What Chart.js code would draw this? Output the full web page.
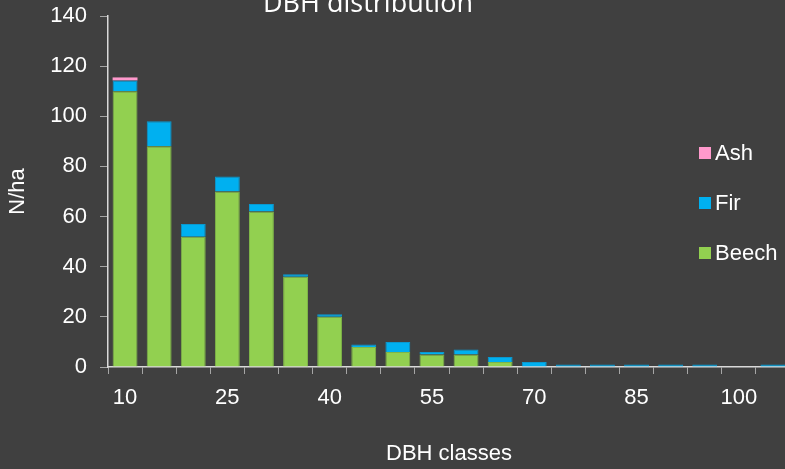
<!DOCTYPE html>
<html>
<head>
<meta charset="utf-8">
<script src="https://cdn.jsdelivr.net/npm/chart.js@4"></script>
<style>
  html, body { margin: 0; padding: 0; background: #404040; overflow: hidden; }
  #wrap { width: 785px; height: 469px; overflow: hidden; }
</style>
</head>
<body>
<div id="wrap"><canvas id="myChart" width="800" height="469"></canvas></div>
<script>
const classes = [10, 15, 20, 25, 30, 35, 40, 45, 50, 55, 60, 65, 70, 75, 80, 85, 90, 95, 100, 105];
const beech = [110, 88, 52, 70, 62, 36, 20, 8, 6, 5, 5, 2, 0, 0, 0, 0, 0, 0, 0, 0];
const fir   = [4.3, 10, 5, 6, 3, 1, 1, 1, 4, 1, 2, 2, 2, 1, 1, 1, 1, 1, 0, 1];
const ash   = [1.2, 0, 0, 0, 0, 0, 0, 0, 0, 0, 0, 0, 0, 0, 0, 0, 0, 0, 0, 0];
const yTicks = [0, 20, 40, 60, 80, 100, 120, 140];

const colorVar = {
    bg: '#404040',
    beech: '#92D050',
    fir: '#00B0F0',
    ash: '#FF99CC',
    text: '#FFFFFF',
    axis: '#D9D9D9',
    tick: '#A6A6A6',
}

const font = 'Liberation Sans';

// title + legend drawn on top, overlapping the plot like the original
const overlay = {
    id: 'overlay',
    afterDraw(chart) {
        const c = chart.ctx;
        c.save();
        c.fillStyle = colorVar.text;
        c.font = '27px "Open Sans"';
        c.textAlign = 'center';
        c.textBaseline = 'alphabetic';
        c.fillText('DBH distribution', 368, 12);

        c.font = '22px "' + font + '"';
        c.textAlign = 'left';
        c.textBaseline = 'middle';
        const items = chart.data.datasets.slice().reverse();
        items.forEach((ds, i) => {
            const y = 153 + i * 50;
            c.fillStyle = ds.backgroundColor;
            c.fillRect(699, y - 6, 12, 12);
            c.fillStyle = colorVar.text;
            c.fillText(ds.label, 715, y + 1);
        });
        c.restore();
    }
}

const bgPlugin = {
    id: 'bg',
    beforeDraw(chart) {
        const c = chart.ctx;
        c.save();
        c.fillStyle = colorVar.bg;
        c.fillRect(0, 0, chart.width, chart.height);
        c.restore();
    }
}

const ctx = document.getElementById('myChart');

new Chart(ctx, {
    type: 'bar',
    data: {
        labels: classes,
        datasets: [
            { label: 'Beech', data: beech, backgroundColor: colorVar.beech, borderColor: '#7FB548', borderWidth: 1 },
            { label: 'Fir', data: fir, backgroundColor: colorVar.fir, borderColor: '#0A98CF', borderWidth: 1 },
            { label: 'Ash', data: ash, backgroundColor: colorVar.ash, borderColor: '#E088B3', borderWidth: 0 },
        ]
    },
    options: {
        responsive: false,
        animation: false,
        layout: { padding: { top: 0, right: 10, bottom: 0, left: 0 } },
        barPercentage: 0.73,
        categoryPercentage: 1,
        plugins: {
            legend: { display: false },
            title: { display: false },
            tooltip: { enabled: false },
        },
        scales: {
            x: {
                stacked: true,
                grid: {
                    display: true,
                    drawOnChartArea: false,
                    drawTicks: true,
                    tickLength: 7,
                    color: colorVar.tick,
                    offset: true,
                },
                border: { display: true, color: colorVar.axis, width: 1.5 },
                ticks: {
                    autoSkip: false,
                    maxRotation: 0,
                    padding: 11,
                    color: colorVar.text,
                    font: { family: font, size: 22 },
                    callback: function (v, i) { return i % 3 === 0 ? classes[i] : ''; },
                },
                title: {
                    display: true,
                    text: 'DBH classes',
                    color: colorVar.text,
                    font: { family: font, size: 22 },
                    padding: { top: 0, bottom: 2 },
                },
                afterFit(scale) { scale.height = 102; },
            },
            y: {
                stacked: true,
                min: 0,
                max: 140,
                afterBuildTicks(scale) { scale.ticks = yTicks.map(v => ({ value: v })); },
                grid: {
                    display: true,
                    drawOnChartArea: false,
                    drawTicks: true,
                    tickLength: 8,
                    color: colorVar.tick,
                },
                border: { display: true, color: colorVar.axis, width: 1.5 },
                ticks: {
                    padding: 13,
                    color: colorVar.text,
                    font: { family: font, size: 22 },
                },
                title: {
                    display: true,
                    text: 'N/ha',
                    color: colorVar.text,
                    font: { family: font, size: 22 },
                    padding: { top: 5, bottom: 0 },
                },
                afterFit(scale) {
                    scale.width = 108;
                    scale.paddingTop = 16;
                    scale.paddingBottom = 0;
                },
            }
        }
    },
    plugins: [bgPlugin, overlay]
});
</script>
</body>
</html>
